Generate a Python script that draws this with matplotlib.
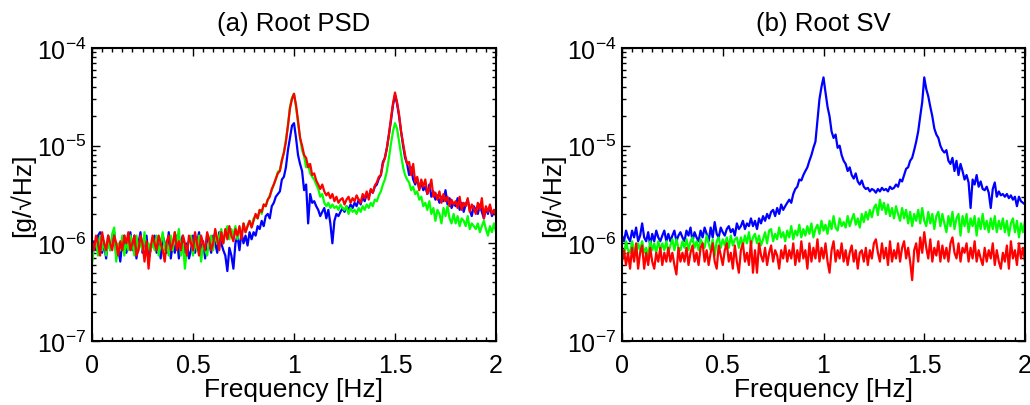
import numpy as np
import matplotlib
matplotlib.use("Agg")
import matplotlib.pyplot as plt
from matplotlib.ticker import MultipleLocator, LogLocator, NullFormatter, FixedLocator, FixedFormatter

plt.rcParams['font.family'] = ['Liberation Sans', 'DejaVu Sans']
plt.rcParams['mathtext.fontset'] = 'custom'
plt.rcParams['mathtext.rm'] = 'Liberation Sans'
plt.rcParams['mathtext.it'] = 'Liberation Sans'

# Frequency grid [Hz]
freq = np.round(np.arange(0, 2.0001, 0.01), 2)

# Values in units of 1e-6 g/sqrt(Hz)
# (a) Root PSD
psd_blue = [
    0.75, 1.05, 0.85, 1.2, 1.3, 0.8, 1.0, 0.7, 1.2, 0.85,
    1.0, 1.3, 0.75, 0.9, 0.65, 1.05, 1.2, 0.8, 1.0, 1.3,
    0.85, 1.2, 0.7, 1.0, 1.3, 0.8, 1.05, 1.2, 0.7, 0.85,
    1.05, 1.2, 0.8, 1.0, 0.7, 1.2, 1.0, 0.8, 1.3, 0.7,
    1.0, 0.8, 1.2, 0.7, 1.05, 1.2, 0.8, 1.0, 0.7, 0.85,
    1.2, 0.8, 1.0, 1.3, 0.8, 1.05, 0.7, 1.2, 1.0, 0.8,
    1.2, 1.0, 0.8, 1.3, 1.0, 0.85, 0.75, 0.52, 0.9, 0.75,
    0.55, 1.0, 1.2, 0.85, 1.3, 1.0, 1.2, 0.95, 1.3, 1.1,
    1.3, 1.2, 1.5, 1.4, 1.7, 1.5, 1.9, 2.0, 1.8, 2.4,
    2.6, 3.0, 3.2, 3.4, 4.5, 4.8, 6.0, 9.0, 12.0, 16.0,
    17.0, 12.0, 8.0, 6.5, 5.5, 3.5, 4.0, 1.6, 3.2, 2.6,
    2.7, 2.4, 2.2, 1.9, 2.1, 2.3, 1.8, 2.2, 1.6, 1.0,
    1.7, 2.0, 1.9, 2.1, 2.3, 2.1, 2.4, 2.2, 2.5, 2.3,
    2.6, 2.4, 2.8, 2.5, 3.0, 2.7, 3.2, 3.0, 3.5, 3.3,
    3.8, 4.0, 4.6, 5.0, 6.8, 7.5, 9.5, 13.0, 18.0, 26.0,
    33.0, 27.0, 20.0, 14.0, 10.0, 7.5, 6.5, 5.0, 6.0, 4.5,
    4.0, 4.6, 3.6, 4.2, 3.5, 3.8, 3.2, 4.0, 3.0, 3.4,
    2.8, 3.1, 2.6, 3.0, 2.7, 3.5, 2.5, 2.9, 2.3, 2.6,
    2.4, 2.9, 2.2, 2.6, 2.1, 2.5, 2.8, 2.2, 1.9, 2.4,
    2.2, 2.0, 2.5, 2.1, 1.8, 2.3, 2.0, 2.4, 1.9, 2.2,
    2.1]
psd_green = [
    0.62, 0.9, 1.05, 0.75, 1.2, 0.85, 1.05, 0.75, 1.05, 0.85,
    1.25, 1.45, 0.65, 1.0, 0.85, 1.2, 0.75, 1.05, 0.85, 1.2,
    1.0, 0.75, 1.2, 0.85, 1.05, 0.85, 1.3, 0.75, 1.0, 0.85,
    1.05, 0.85, 1.2, 0.75, 1.0, 1.3, 0.85, 1.05, 0.75, 1.2,
    0.85, 1.3, 1.0, 1.4, 0.75, 1.0, 0.55, 0.9, 1.05, 1.2,
    0.75, 1.05, 0.85, 1.2, 0.65, 1.0, 0.85, 0.75, 1.05, 1.2,
    0.85, 1.3, 1.0, 1.2, 1.4, 1.0, 1.3, 1.5, 1.1, 1.4,
    1.2, 1.5, 1.1, 1.4, 1.2, 1.6, 1.3, 1.5, 1.7, 1.5,
    1.8, 1.9, 1.8, 2.2, 2.0, 2.5, 2.4, 2.8, 3.1, 3.5,
    4.0, 4.5, 5.4, 5.6, 7.2, 8.5, 11.5, 16.0, 25.0, 31.0,
    34.0, 25.0, 17.0, 12.0, 9.0, 7.8, 6.0, 6.5, 5.2, 4.8,
    4.5, 4.0, 3.6, 3.0, 3.2, 2.6, 2.4, 2.6, 2.3, 2.5,
    2.3, 2.4, 2.2, 2.5, 2.3, 2.2, 2.4, 2.0, 2.3, 2.1,
    2.2, 2.0, 2.3, 2.1, 2.4, 2.2, 2.5, 2.3, 2.6, 2.4,
    2.8, 2.7, 3.1, 3.4, 4.0, 4.5, 5.5, 7.5, 10.5, 14.0,
    17.0, 15.0, 11.0, 8.0, 6.0, 5.0, 4.5, 4.2, 3.5, 3.8,
    3.2, 3.4, 2.8, 3.0, 2.4, 2.6, 2.2, 2.7, 2.0, 2.3,
    1.7, 2.2, 2.0, 1.6, 2.3, 1.9, 2.4, 1.8, 1.6, 2.0,
    1.6, 1.9, 1.5, 1.8, 1.7, 1.5, 1.9, 1.4, 1.6, 1.5,
    1.4, 1.6, 1.3, 1.5, 1.7, 1.4, 1.2, 1.5, 1.3, 1.6,
    1.3]
psd_red = [
    1.05, 0.85, 1.2, 1.0, 0.75, 1.3, 1.0, 0.85, 1.2, 1.0,
    0.85, 1.2, 1.0, 0.75, 1.05, 0.85, 1.2, 1.0, 1.3, 0.85,
    1.0, 1.2, 0.75, 0.85, 1.2, 1.0, 0.65, 1.05, 0.55, 0.9,
    1.2, 1.0, 0.85, 1.2, 1.0, 0.85, 0.65, 1.05, 1.2, 0.85,
    1.0, 1.3, 0.85, 1.05, 0.85, 1.2, 1.0, 0.75, 1.2, 1.0,
    0.85, 1.3, 1.0, 0.75, 1.2, 1.0, 0.85, 1.3, 1.1, 0.85,
    1.0, 1.4, 1.1, 0.85, 1.3, 1.0, 1.4, 1.1, 1.5, 1.2,
    1.05, 1.4, 1.2, 1.5, 1.1, 1.6, 1.3, 1.5, 1.7, 1.45,
    1.7, 2.0, 1.8, 2.2, 2.1, 2.5, 2.4, 2.8, 3.0, 3.6,
    4.0, 4.6, 5.2, 5.5, 7.0, 8.5, 11.0, 16.0, 24.0, 30.0,
    34.0, 26.0, 18.0, 12.0, 10.0, 8.0, 7.5, 6.0, 6.5, 5.0,
    5.2, 4.4, 4.0, 3.6, 4.0, 3.4, 3.1, 3.3, 2.9, 3.2,
    2.7, 3.0, 2.6, 2.8, 2.9, 2.5, 2.8, 3.0, 2.6, 2.9,
    2.7, 3.1, 2.8, 2.6, 3.2, 2.9, 3.4, 2.8, 3.6, 3.3,
    3.9, 4.2, 4.8, 5.0, 6.5, 7.5, 9.5, 13.0, 19.0, 27.0,
    35.0, 28.0, 21.0, 14.0, 10.5, 8.0, 6.5, 6.8, 5.0, 6.5,
    4.2, 4.8, 3.5, 4.5, 3.8, 4.5, 3.2, 3.6, 4.5, 3.0,
    3.3, 2.8, 3.4, 2.6, 3.2, 2.7, 3.0, 2.4, 2.8, 2.5,
    2.7, 2.3, 3.0, 2.2, 2.6, 2.4, 2.9, 2.1, 2.5, 2.3,
    2.0, 2.6, 2.2, 2.9, 1.8, 2.4, 2.1, 2.5, 2.0, 2.2,
    1.9]

# (b) Root SV
sv_blue = [
    1.2, 1.05, 1.35, 1.15, 1.05, 1.35, 1.15, 1.45, 1.05, 1.2,
    1.6, 1.15, 1.05, 1.3, 0.95, 1.25, 1.05, 1.35, 1.15, 1.05,
    1.2, 1.35, 1.05, 1.25, 1.05, 1.2, 1.35, 1.05, 1.2, 1.3,
    1.15, 1.05, 1.35, 1.2, 1.45, 1.05, 1.3, 1.15, 1.05, 1.35,
    1.15, 1.45, 1.25, 1.05, 1.45, 1.15, 1.65, 1.25, 1.15, 1.45,
    1.3, 1.2, 1.4, 1.5, 1.3, 1.4, 1.2, 1.6, 1.4, 1.5,
    1.7, 1.4, 1.6, 1.5, 1.8, 1.5, 1.7, 1.4, 1.8, 1.6,
    1.9, 1.7, 2.0, 1.8, 2.1, 2.2, 1.9, 2.3, 2.0, 2.5,
    2.2, 2.4, 2.6, 2.8, 2.6, 3.2, 3.6, 3.8, 4.5, 4.4,
    5.0, 5.5, 6.0, 7.0, 8.0, 9.5, 11.0, 18.0, 30.0, 40.0,
    50.0, 35.0, 25.0, 20.0, 14.0, 12.0, 13.0, 9.5, 10.0, 8.0,
    7.0, 6.5, 5.5, 6.0, 5.0, 4.6, 5.2, 4.3, 4.0, 4.4,
    3.8, 3.6, 3.7, 3.4, 3.6, 3.5, 3.3, 3.6, 3.4, 3.7,
    3.5, 3.6, 3.4, 3.8, 3.6, 3.7, 4.0, 3.8, 4.5, 4.3,
    5.0, 5.8, 6.0, 7.0, 7.5, 9.0, 11.0, 14.0, 20.0, 28.0,
    50.0, 38.0, 32.0, 25.0, 20.0, 15.0, 13.0, 12.0, 10.0, 9.0,
    8.5, 9.0, 7.0, 6.5, 7.5, 5.5, 7.0, 5.0, 6.5, 5.5,
    4.5, 5.0, 4.2, 2.3, 4.5, 4.0, 5.0, 3.8, 4.3, 3.6,
    3.5, 3.8, 3.3, 2.3, 3.6, 4.2, 3.0, 3.4, 3.1, 3.2,
    3.0, 3.2, 2.9, 3.1, 2.8, 3.0, 2.4, 3.0, 2.7, 2.6,
    2.5]
sv_green = [
    0.85, 0.75, 1.05, 0.85, 0.8, 1.05, 0.85, 0.75, 1.0, 0.85,
    1.05, 0.8, 0.9, 0.75, 1.05, 0.85, 1.0, 0.8, 1.05, 0.85,
    1.0, 0.85, 1.05, 0.8, 0.95, 1.1, 0.85, 1.1, 0.9, 0.85,
    1.05, 0.9, 1.1, 0.85, 1.05, 1.15, 0.9, 1.05, 0.85, 1.1,
    1.0, 0.9, 1.2, 1.0, 0.85, 1.1, 0.75, 1.05, 1.15, 0.9,
    1.1, 0.95, 1.15, 0.9, 1.2, 0.95, 1.1, 1.15, 0.9, 1.15,
    0.95, 1.2, 1.0, 1.3, 0.95, 1.15, 1.25, 1.0, 1.2, 0.95,
    1.1, 1.3, 1.0, 1.35, 1.4, 1.05, 1.25, 1.1, 1.45, 1.15,
    1.3, 1.05, 1.35, 1.15, 1.5, 1.1, 1.35, 1.2, 1.55, 1.15,
    1.4, 1.2, 1.5, 1.25, 1.6, 1.15, 1.4, 1.55, 1.25, 1.7,
    1.35, 1.55, 1.25, 1.7, 1.4, 1.9, 1.45, 1.35, 1.8, 1.5,
    1.65, 1.45, 1.9, 1.5, 1.75, 2.0, 1.55, 1.8, 1.45, 2.0,
    1.65, 2.1, 1.75, 2.2, 1.85, 2.3, 2.5, 1.95, 2.8, 2.2,
    2.6, 2.0, 2.5, 1.9, 2.3, 1.8, 2.4, 2.0, 1.7, 2.3,
    1.8, 2.2, 1.6, 2.1, 1.5, 2.0, 1.7, 2.2, 1.6, 2.3,
    1.7, 1.5, 2.1, 1.6, 2.0, 1.4, 1.9, 2.1, 1.5, 2.0,
    1.6, 1.3, 1.9, 1.5, 2.1, 1.4, 1.8, 2.0, 1.2, 1.9,
    1.5, 2.0, 1.3, 1.8, 1.5, 1.9, 1.2, 1.8, 1.4, 2.0,
    1.4, 1.7, 1.3, 1.8, 1.4, 1.9, 1.3, 1.7, 1.4, 1.8,
    1.3, 1.7, 1.2, 1.6, 1.8, 1.3, 1.7, 1.15, 1.6, 1.3,
    1.7]
sv_red = [
    0.65, 0.85, 0.6, 0.8, 0.55, 0.9, 0.65, 1.0, 0.55, 0.8,
    0.95, 0.55, 0.8, 0.6, 0.9, 0.65, 0.55, 0.8, 0.65, 0.9,
    0.6, 0.8, 0.65, 0.9, 0.65, 0.8, 0.6, 0.48, 0.9, 0.65,
    0.8, 0.65, 0.9, 0.6, 0.8, 0.95, 0.65, 0.8, 0.6, 0.9,
    1.0, 0.65, 0.85, 0.6, 0.8, 1.0, 0.65, 0.55, 0.95, 0.75,
    0.6, 0.85, 1.0, 0.65, 0.8, 0.55, 0.95, 0.65, 0.5, 0.85,
    1.0, 0.65, 0.8, 0.6, 1.05, 0.5, 0.85, 0.5, 1.0, 0.75,
    0.65, 0.9, 0.6, 0.8, 0.95, 0.65, 0.85, 0.75, 0.55, 0.85,
    0.7, 0.95, 0.65, 0.85, 0.7, 1.0, 0.6, 0.85, 0.65, 1.05,
    0.7, 0.85, 0.55, 1.0, 0.65, 0.9, 0.7, 1.1, 0.65, 0.9,
    0.7, 1.0, 0.65, 0.5, 0.85, 1.05, 0.65, 0.85, 0.7, 1.0,
    0.65, 0.85, 0.6, 0.8, 0.95, 0.65, 0.85, 0.55, 0.8, 0.85,
    0.65, 0.9, 0.6, 0.85, 0.7, 1.0, 1.1, 0.8, 0.65, 1.0,
    0.7, 0.9, 0.6, 1.05, 0.65, 0.85, 0.7, 1.0, 0.65, 0.9,
    1.05, 0.7, 0.9, 0.65, 0.42, 0.85, 1.0, 0.65, 1.15, 0.8,
    1.3, 0.9, 0.7, 1.1, 0.65, 0.9, 0.75, 1.05, 0.65, 0.95,
    0.7, 0.9, 0.65, 1.0, 1.15, 0.8, 0.7, 1.0, 0.65, 0.9,
    0.8, 1.0, 0.65, 0.9, 0.7, 1.05, 0.65, 0.85, 0.7, 0.6,
    0.9, 0.65, 0.85, 0.7, 1.0, 0.6, 0.85, 0.65, 0.55, 0.8,
    0.65, 0.95, 0.55, 1.05, 0.7, 0.85, 0.6, 1.0, 0.7, 0.9,
    0.65]

titles = ["(a) Root PSD", "(b) Root SV"]
xlabel = "Frequency [Hz]"
ylabel = "[g/\u221aHz]"
xtick_vals = [0, 0.5, 1, 1.5, 2]
xtick_labels = ["0", "0.5", "1", "1.5", "2"]
ytick_vals = [1e-7, 1e-6, 1e-5, 1e-4]
ytick_labels = [r"$\mathregular{10^{-7}}$", r"$\mathregular{10^{-6}}$",
                r"$\mathregular{10^{-5}}$", r"$\mathregular{10^{-4}}$"]

panels = [
    (psd_blue, psd_green, psd_red),
    (sv_blue, sv_green, sv_red),
]
colors = ["#0000ff", "#00ff00", "#ff0000"]

fig = plt.figure(figsize=(10.30, 4.06), dpi=100)
positions = [
    [92 / 1030, 1 - 342 / 406, 404 / 1030, 293 / 406],
    [622 / 1030, 1 - 342 / 406, 403 / 1030, 293 / 406],
]

for pos, series, title in zip(positions, panels, titles):
    ax = fig.add_axes(pos)
    for vals, c in zip(series, colors):
        ax.plot(freq, np.array(vals) * 1e-6, color=c, lw=1.6)
    ax.set_yscale('log')
    ax.set_xlim(0, 2)
    ax.set_ylim(1e-7, 1e-4)
    ax.xaxis.set_major_locator(FixedLocator(xtick_vals))
    ax.xaxis.set_major_formatter(FixedFormatter(xtick_labels))
    ax.xaxis.set_minor_locator(MultipleLocator(0.05))
    ax.yaxis.set_major_locator(FixedLocator(ytick_vals))
    ax.yaxis.set_major_formatter(FixedFormatter(ytick_labels))
    ax.yaxis.set_minor_locator(LogLocator(base=10, subs=np.arange(2, 10)))
    ax.yaxis.set_minor_formatter(NullFormatter())
    ax.tick_params(which='both', direction='in', top=True, right=True,
                   width=1.0)
    ax.tick_params(axis='x', labelsize=18, pad=9)
    ax.tick_params(axis='y', labelsize=18, pad=4)
    ax.tick_params(which='major', length=6)
    ax.tick_params(which='minor', length=3)
    for s in ax.spines.values():
        s.set_linewidth(1.5)
    ax.set_title(title, fontsize=18.5, pad=13)
    ax.set_xlabel(xlabel, fontsize=19, labelpad=0)
    ax.set_ylabel(ylabel, fontsize=19)
    ax.yaxis.set_label_coords(-0.14, 0.5)

fig.savefig("out.png", dpi=100)
